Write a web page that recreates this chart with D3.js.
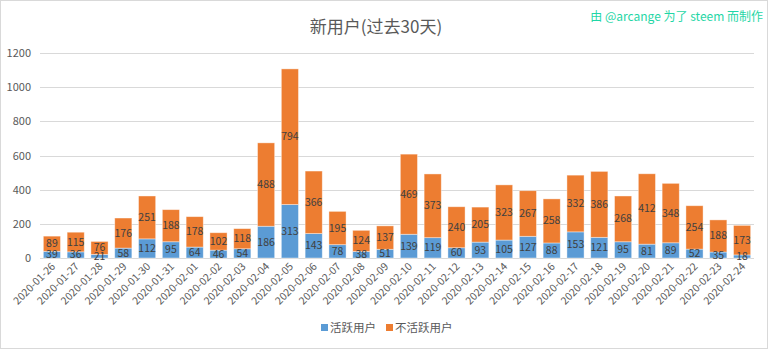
<!DOCTYPE html>
<html><head><meta charset="utf-8">
<script src="https://cdn.jsdelivr.net/npm/d3@7"></script>
<style>body{margin:0;background:#fff}svg{display:block;font-family:"Noto Sans CJK SC","Open Sans",sans-serif}</style>
</head><body><svg id="c" width="768" height="349"></svg>
<script>
const dates = ["2020-01-26","2020-01-27","2020-01-28","2020-01-29","2020-01-30","2020-01-31","2020-02-01","2020-02-02","2020-02-03","2020-02-04","2020-02-05","2020-02-06","2020-02-07","2020-02-08","2020-02-09","2020-02-10","2020-02-11","2020-02-12","2020-02-13","2020-02-14","2020-02-15","2020-02-16","2020-02-17","2020-02-18","2020-02-19","2020-02-20","2020-02-21","2020-02-22","2020-02-23","2020-02-24"];
const active = [39,36,21,58,112,95,64,46,54,186,313,143,78,38,51,139,119,60,93,105,127,88,153,121,95,81,89,52,35,18];
const inactive = [89,115,76,176,251,188,178,102,118,488,794,366,195,124,137,469,373,240,205,323,267,258,332,386,268,412,348,254,188,173];
const yTicks = [0,200,400,600,800,1000,1200];
const seriesNames = ["活跃用户","不活跃用户"];
const colors = ["#5B9BD5","#ED7D31"];

const svg = d3.select("#c");
svg.append("rect").attr("x",0.5).attr("y",0.5).attr("width",767).attr("height",348).attr("fill","#fff").attr("stroke","#d9d9d9");

const m = {l:40, r:14, t:53, b:91};
const W = 768, H = 349;
const x = d3.scaleBand().domain(dates).range([m.l, W-m.r]).paddingInner(0.28).paddingOuter(0.14);
const y = d3.scaleLinear().domain([0,1200]).range([H-m.b, m.t]);

// grid
svg.append("g").selectAll("line").data(yTicks).join("line")
  .attr("x1",m.l).attr("x2",W-m.r).attr("y1",d=>Math.round(y(d))+0.5).attr("y2",d=>Math.round(y(d))+0.5)
  .attr("stroke","#d9d9d9").attr("stroke-width",1);

// y labels
svg.append("g").selectAll("text").data(yTicks).join("text")
  .attr("x",31).attr("y",d=>y(d)+4).attr("text-anchor","end")
  .attr("font-size",11).attr("fill","#595959").text(d=>d);

const data = dates.map((d,i)=>({date:d, a:active[i], b:inactive[i]}));
const stack = d3.stack().keys(["a","b"])(data);

const g = svg.append("g");
stack.forEach((s,si)=>{
  g.append("g").selectAll("rect").data(s).join("rect")
    .attr("x",d=>x(d.data.date)).attr("width",x.bandwidth())
    .attr("y",d=>y(d[1])).attr("height",d=>y(d[0])-y(d[1]))
    .attr("fill",colors[si]).attr("stroke","#fff").attr("stroke-opacity",0.5).attr("stroke-width",0.8);
});
stack.forEach((s,si)=>{
  g.append("g").selectAll("text").data(s).join("text")
    .attr("x",d=>x(d.data.date)+x.bandwidth()/2)
    .attr("y",d=>(y(d[0])+y(d[1]))/2+3.5)
    .attr("text-anchor","middle").attr("font-size",10.5).attr("fill","#404040")
    .text(d=>d[1]-d[0]);
});

// x labels
svg.append("g").selectAll("text").data(dates).join("text")
  .attr("transform",d=>`translate(${x(d)+x.bandwidth()/2+4},${H-m.b+9}) rotate(-45)`)
  .attr("text-anchor","end").attr("font-size",10.5).attr("fill","#595959").text(d=>d);

// title
svg.append("text").attr("x",376).attr("y",33).attr("text-anchor","middle")
  .attr("font-size",17).attr("fill","#595959").text("新用户(过去30天)");
// watermark
svg.append("text").attr("x",763).attr("y",21).attr("text-anchor","end")
  .attr("font-size",12).attr("fill","#1fd6a6").text("由 @arcange 为了 steem 而制作");

// legend
const lg = svg.append("g");
const lx = [321, 386];
seriesNames.forEach((n,i)=>{
  lg.append("rect").attr("x",lx[i]).attr("y",324).attr("width",7).attr("height",7).attr("fill",colors[i]);
  lg.append("text").attr("x",lx[i]+9).attr("y",332).attr("font-size",11.5).attr("fill","#595959").text(n);
});
</script></body></html>
